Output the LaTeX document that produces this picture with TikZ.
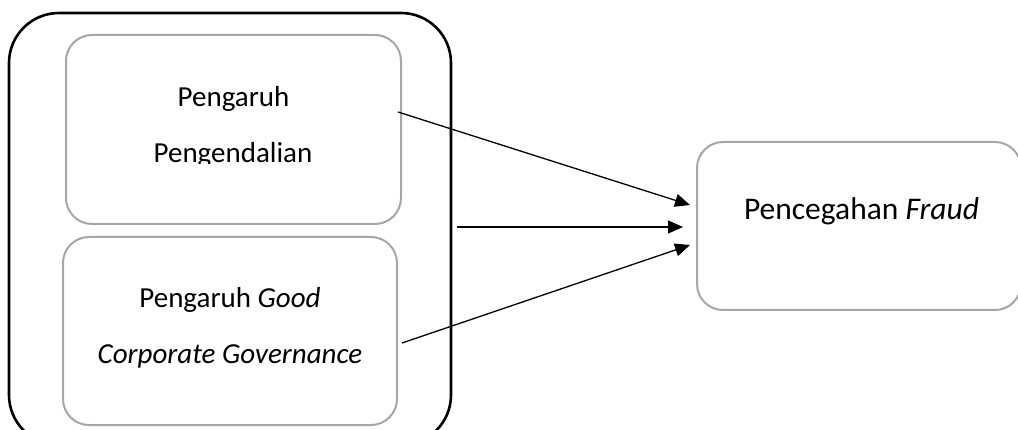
\documentclass[tikz,border=0pt]{standalone}
\usepackage{fontspec}
\setmainfont{Carlito}
\usetikzlibrary{arrows.meta}
\definecolor{boxgray}{RGB}{166,166,166}
\begin{document}
\begin{tikzpicture}[x=1pt,y=-1pt,
  outerbox/.style={draw=black,line width=2.6pt,rounded corners=50pt,minimum width=442pt,minimum height=432pt,inner sep=0pt},
  innerbox/.style={draw=boxgray,line width=2pt,rounded corners=26pt,inner sep=0pt},
  lbl/.style={anchor=base,inner sep=0pt,font=\fontsize{29}{34}\selectfont},
  rlbl/.style={anchor=base,inner sep=0pt,font=\fontsize{31.5}{38}\selectfont},
  conn/.style={draw=black,line width=1.3pt,-{Triangle[length=15pt,width=13pt]}}]
\useasboundingbox (0,0) rectangle (1018,430);
\clip (0,0) rectangle (1018,430);
\node[outerbox] (outer) at (230,229) {};
\node[innerbox,minimum width=335pt,minimum height=189pt] (top) at (233.5,129.5) {};
\node[innerbox,minimum width=334pt,minimum height=188pt] (bottom) at (230,331) {};
\node[innerbox,minimum width=324pt,minimum height=168pt] (fraud) at (859,226) {};
\node[lbl] (t1) at (233.5,107) {Pengaruh};
\begin{scope}
  \clip (60,30) rectangle (410,164);
  \node[lbl] (t2) at (233,163) {Pengendalian};
\end{scope}
\node[lbl] (b1) at (230,308) {Pengaruh \textit{Good}};
\node[lbl] (b2) at (230,364) {\textit{Corporate Governance}};
\node[rlbl] (f1) at (861.5,220) {Pencegahan \textit{Fraud}};
\coordinate (s1) at (398,112);
\coordinate (s2) at (457,227);
\coordinate (s3) at (402,343);
\coordinate (e1) at (690,205);
\coordinate (e2) at (683,227);
\coordinate (e3) at (690,245);
\draw[conn] (s1) -- (e1);
\draw[conn] (s2) -- (e2);
\draw[conn] (s3) -- (e3);
\end{tikzpicture}
\end{document}
